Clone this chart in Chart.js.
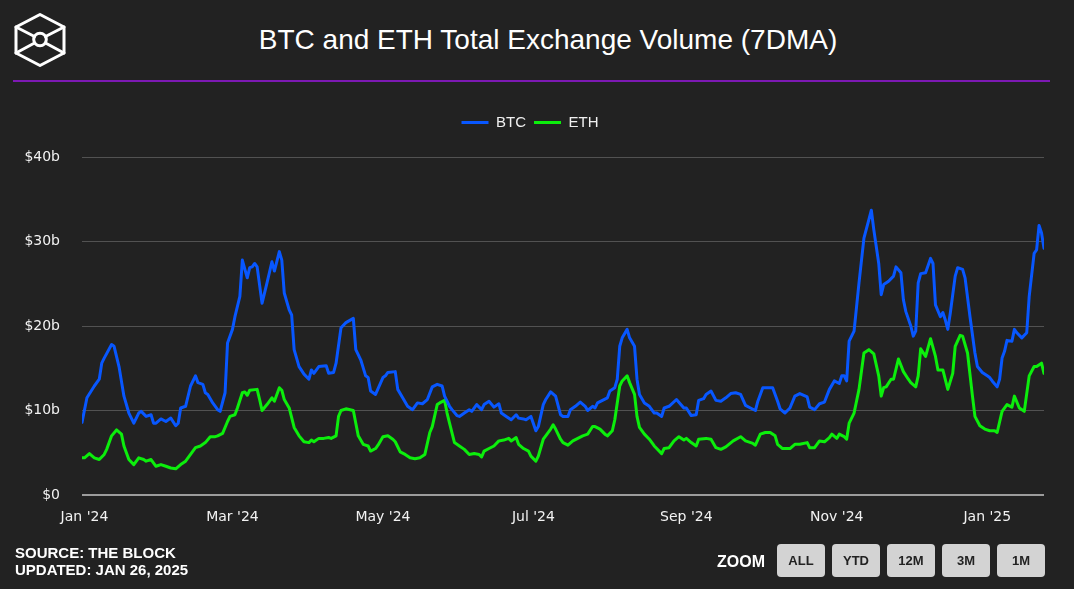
<!DOCTYPE html>
<html>
<head>
<meta charset="utf-8">
<script src="https://cdn.jsdelivr.net/npm/chart.js@4.4.1/dist/chart.umd.min.js"></script>
<style>
  html, body { margin: 0; padding: 0; background: #222222; width: 1074px; height: 589px; overflow: hidden; }
  #wrap { position: relative; width: 1074px; height: 589px; background: #222222; }
  #c { position: absolute; left: 0; top: 0; }
  .title { position: absolute; left: 11px; width: 1074px; top: 23px; line-height: 34px; text-align: center;
           color: #ffffff; font-family: "Liberation Sans", Arial, sans-serif; font-size: 28px; white-space: nowrap; }
  .rule { position: absolute; left: 13px; top: 80px; width: 1037px; height: 2px; background: #7d19b3; }
  .foot { position: absolute; left: 15px; top: 544px; line-height: 17px; color: #ffffff;
          font-family: "Liberation Sans", Arial, sans-serif; font-weight: bold; font-size: 15px; white-space: nowrap; }
  .zoomlbl { position: absolute; left: 717px; top: 552px; line-height: 20px; color: #ffffff;
             font-family: "Liberation Sans", Arial, sans-serif; font-weight: bold; font-size: 16px; }
  .btn { position: absolute; top: 544px; width: 48px; height: 33px; border-radius: 4px; background: #d3d3d3;
         color: #222; font-family: "Liberation Sans", Arial, sans-serif; font-weight: bold; font-size: 13px;
         line-height: 33px; text-align: center; }
</style>
</head>
<body>
<div id="wrap">
  <svg style="position:absolute;left:0;top:0" width="80" height="80">
    <g fill="none" stroke="#ffffff" stroke-width="3" stroke-linejoin="round" stroke-linecap="round">
      <polygon points="40,14.5 64,27 64,53 40,65.5 16,53 16,27"/>
      <line x1="16" y1="27" x2="34.5" y2="36.5"/>
      <line x1="64" y1="27" x2="45.5" y2="36.5"/>
      <line x1="16" y1="53" x2="34.5" y2="43"/>
      <line x1="64" y1="53" x2="45.5" y2="43"/>
      <circle cx="40" cy="39.5" r="6.3"/>
    </g>
  </svg>
  <div class="title">BTC and ETH Total Exchange Volume (7DMA)</div>
  <div class="rule"></div>
  <canvas id="c" width="1074" height="589"></canvas>
  <div class="foot">SOURCE: THE BLOCK<br>UPDATED: JAN 26, 2025</div>
  <div class="zoomlbl">ZOOM</div>
  <div class="btn" style="left:777px">ALL</div>
  <div class="btn" style="left:832px">YTD</div>
  <div class="btn" style="left:887px">12M</div>
  <div class="btn" style="left:942px">3M</div>
  <div class="btn" style="left:997px">1M</div>
</div>
<script>
// Days are counted from 2024-01-01 (day 0); values in $ billions (7-day moving average)
const btcDays = [
  -1,1,4,6,7,8,11,12,14,16,
  18,20,22,23,25,27,28,29,31,33,
  35,37,38,39,41,43,45,46,48,49,
  50,52,54,55,57,58,60,61,63,64,
  66,67,68,69,70,72,74,76,77,79,
  80,81,83,84,85,87,89,91,92,93,
  95,98,99,101,102,104,106,109,110,112,
  114,115,116,118,121,122,123,126,127,129,
  131,133,135,137,139,141,143,145,146,148,
  149,151,152,154,156,157,159,161,162,164,
  166,168,169,171,173,175,176,178,179,181,
  183,184,186,187,189,191,193,194,196,197,
  199,201,203,204,206,207,208,210,212,213,
  215,216,217,218,220,221,223,224,225,227,
  229,231,232,234,235,237,240,243,244,246,
  248,249,251,252,254,256,258,260,262,264,
  266,268,270,272,273,275,277,279,281,282,
  284,286,288,290,293,294,296,298,300,302,
  304,306,307,308,309,310,311,312,314,316,
  318,319,320,322,323,324,326,328,329,331,
  332,333,335,336,337,338,339,341,343,344,
  345,347,348,349,350,351,353,354,356,357,
  359,361,362,364,366,367,368,370,371,372,
  373,374,376,377,378,380,382,383,385,386,
  387,388,389
];
const btcValues = [
  8.6,11.5,12.9,13.7,15.6,16.2,17.8,17.6,15.2,11.7,
  9.7,8.5,9.7,9.9,9.3,9.5,8.5,8.5,9.0,8.7,
  9.1,8.2,8.5,10.3,10.5,12.9,14.1,13.3,13.1,12.1,
  11.9,10.9,10.1,9.9,12.1,18.0,19.6,21.1,23.5,27.8,
  25.7,26.9,27.0,27.4,27.0,22.7,25.1,27.6,26.5,28.8,
  27.8,23.9,21.9,21.3,17.2,15.2,14.3,13.7,14.8,14.4,
  15.2,15.3,14.4,14.5,15.6,19.8,20.4,20.9,17.2,16.0,
  14.1,13.9,12.3,11.9,13.9,14.1,14.5,14.6,12.5,11.5,
  10.5,10.1,10.9,10.8,11.3,12.8,13.1,12.9,11.7,10.5,
  10.1,9.4,9.3,9.7,10.1,9.9,10.7,10.1,10.7,11.1,
  10.4,10.8,9.7,9.3,8.9,9.5,9.1,9.0,8.9,9.3,
  7.6,8.1,10.7,11.3,12.2,11.7,9.5,9.3,9.3,10.1,
  10.5,11.0,10.5,10.0,10.5,10.3,10.9,11.2,11.5,12.3,
  12.7,13.7,17.6,18.6,19.6,18.6,17.6,13.7,11.9,10.9,
  10.5,9.7,9.7,9.3,10.3,10.5,11.3,10.3,10.3,9.4,
  9.5,11.2,11.4,11.9,12.3,11.2,11.1,11.5,12.0,12.1,
  11.9,10.6,10.3,10.0,11.1,12.7,12.7,12.7,11.1,10.2,
  9.7,10.3,11.7,12.0,11.6,10.4,10.1,10.8,11.0,12.5,
  13.5,13.2,14.1,14.1,13.5,18.2,18.8,19.4,25.1,30.4,
  32.6,33.7,31.4,27.4,23.7,24.9,25.3,25.9,27.0,26.3,
  23.1,21.7,20.0,18.8,19.4,25.1,26.2,26.3,28.0,27.4,
  22.5,21.1,21.6,20.7,19.6,21.5,25.9,26.9,26.7,25.7,
  21.1,16.8,15.2,14.5,14.1,13.9,13.5,12.8,13.7,16.2,
  17.0,18.3,18.2,19.6,19.2,18.6,19.2,23.5,28.6,29.0,
  31.9,31.0,29.2
];
const ethDays = [
  -1,0,2,4,6,8,9,11,13,15,
  16,18,20,22,24,25,27,29,31,33,
  35,37,39,41,43,45,47,49,51,53,
  54,56,58,59,61,62,64,65,66,67,
  70,71,72,74,76,77,79,80,81,83,
  85,87,89,91,92,93,95,97,99,100,
  102,103,104,106,109,110,111,113,115,116,
  118,119,121,123,125,126,128,130,132,134,
  136,138,140,141,143,144,146,147,148,150,
  152,154,156,158,160,161,162,164,166,168,
  170,172,173,175,176,178,180,181,183,184,
  186,187,189,190,191,193,194,196,198,200,
  202,204,206,207,209,211,212,214,215,217,
  218,220,221,223,224,225,227,229,231,234,
  235,237,239,241,243,244,246,248,249,252,
  254,256,258,260,263,266,268,271,272,274,
  276,278,280,281,283,286,288,290,293,294,
  296,298,300,302,303,305,306,308,309,310,
  312,314,316,318,320,322,323,324,325,327,
  328,330,332,334,335,337,338,339,341,343,
  345,346,348,350,352,353,355,356,358,360,
  361,363,365,367,369,370,372,374,376,377,
  379,381,383,385,386,388,389
];
const ethValues = [
  4.4,4.4,4.9,4.4,4.2,4.8,5.4,7.0,7.7,7.2,
  5.8,4.2,3.6,4.4,4.2,4.0,4.2,3.4,3.6,3.4,
  3.2,3.1,3.6,4.0,4.8,5.6,5.8,6.2,6.9,6.9,
  7.0,7.3,8.7,9.3,9.5,10.3,12.1,12.2,11.8,12.4,
  12.5,11.3,10.0,10.7,11.5,11.1,12.7,12.4,11.3,10.3,
  8.0,7.0,6.3,6.2,6.5,6.3,6.7,6.7,6.8,6.7,
  7.0,9.3,10.0,10.2,10.0,8.5,7.0,6.0,5.8,5.2,
  5.5,5.9,6.9,7.0,6.6,6.3,5.1,4.8,4.4,4.3,
  4.4,4.8,7.4,8.1,10.7,10.9,11.2,9.7,8.5,6.2,
  5.8,5.4,4.8,4.9,4.8,4.5,5.2,5.5,5.8,6.4,
  6.5,6.7,6.4,6.8,6.0,5.5,5.2,4.6,4.0,4.6,
  6.6,7.0,7.8,8.3,7.8,6.6,6.2,5.9,6.4,6.7,
  7.0,7.2,8.1,8.1,7.8,7.2,7.0,7.6,8.9,12.9,
  13.5,14.1,13.3,11.9,9.3,8.0,7.2,6.6,5.8,4.9,
  5.5,5.6,6.4,6.9,6.5,6.7,6.2,5.8,6.6,6.7,
  6.6,5.6,5.4,5.7,6.4,6.9,6.4,6.1,5.9,7.2,
  7.4,7.4,7.0,6.0,5.5,5.5,6.0,6.0,6.2,5.6,
  5.6,6.4,6.3,6.8,7.2,6.7,7.2,6.9,6.6,8.5,
  9.7,12.5,16.8,17.2,16.7,14.1,11.7,12.7,12.8,13.7,
  13.7,16.1,14.6,13.7,13.3,12.8,14.1,17.3,16.4,18.5,
  16.4,14.8,14.8,12.5,14.4,17.6,18.9,18.8,16.8,11.7,
  9.3,8.2,7.8,7.6,7.6,7.4,9.9,10.7,10.4,11.7,
  10.3,9.9,14.1,15.2,15.2,15.6,14.4
];
const seriesNames = ['BTC', 'ETH'];
const tickDates = ['2024-01-01','2024-03-01','2024-05-01','2024-07-01','2024-09-01','2024-11-01','2025-01-01'];
const tickLabels = ["Jan '24","Mar '24","May '24","Jul '24","Sep '24","Nov '24","Jan '25"];
const yTicks = [0, 10, 20, 30, 40];
const yTickLabels = ['$0', '$10b', '$20b', '$30b', '$40b'];
const firstDay = -1, lastDay = 389;

const DAY0 = Date.UTC(2024, 0, 1);
const toDay = s => { const [y, m, d] = s.split('-').map(Number); return Math.round((Date.UTC(y, m - 1, d) - DAY0) / 86400000); };
const tickDays = tickDates.map(toDay);

const BTC_COLOR = '#0857ff';
const ETH_COLOR = '#0cee0c';
const TICK_FONT = { family: '"DejaVu Sans", sans-serif', size: 14 };

const legendSpacer = {
  id: 'legendSpacer',
  beforeInit(chart) {
    const origFit = chart.legend.fit;
    chart.legend.fit = function () { origFit.call(this); this.height += 17; };
  }
};

new Chart(document.getElementById('c'), {
  type: 'line',
  data: {
    datasets: [
      { label: seriesNames[0], data: btcDays.map((d, i) => ({ x: d, y: btcValues[i] })),
        borderColor: BTC_COLOR, backgroundColor: BTC_COLOR, borderWidth: 3, pointRadius: 0,
        tension: 0, borderJoinStyle: 'round', borderCapStyle: 'round' },
      { label: seriesNames[1], data: ethDays.map((d, i) => ({ x: d, y: ethValues[i] })),
        borderColor: ETH_COLOR, backgroundColor: ETH_COLOR, borderWidth: 3, pointRadius: 0,
        tension: 0, borderJoinStyle: 'round', borderCapStyle: 'round' }
    ]
  },
  options: {
    responsive: false,
    animation: false,
    devicePixelRatio: 1,
    layout: { padding: { left: 16, right: 30, top: 107, bottom: 0 } },
    plugins: {
      legend: {
        display: true,
        position: 'top',
        align: 'center',
        labels: {
          color: '#f0f0f0',
          font: { family: '"Liberation Sans", Arial, sans-serif', size: 15 },
          boxWidth: 27, boxHeight: 3, padding: 8,
          generateLabels(chart) {
            const items = Chart.defaults.plugins.legend.labels.generateLabels(chart);
            items.forEach(it => { it.lineWidth = 0; });
            return items;
          }
        }
      },
      tooltip: { enabled: false },
      title: { display: false }
    },
    scales: {
      x: {
        type: 'linear',
        min: firstDay, max: lastDay,
        grid: { display: false, drawTicks: false },
        border: { display: false },
        afterFit(scale) { scale.height = 94; },
        afterBuildTicks(scale) { scale.ticks = tickDays.map(v => ({ value: v })); },
        ticks: {
          autoSkip: false, maxRotation: 0, padding: 14, color: '#f2f2f2', font: TICK_FONT,
          callback(v) { const i = tickDays.indexOf(v); return i >= 0 ? tickLabels[i] : ''; }
        }
      },
      y: {
        min: 0, max: 40,
        afterFit(scale) { scale.width = 66; },
        afterBuildTicks(scale) { scale.ticks = yTicks.map(v => ({ value: v })); },
        grid: {
          drawTicks: false,
          color: c => (c.tick && c.tick.value === 0) ? '#9c9c9c' : '#525252',
          lineWidth: c => (c.tick && c.tick.value === 0) ? 2 : 1
        },
        border: { display: false },
        ticks: {
          padding: 22, color: '#f2f2f2', font: TICK_FONT,
          callback(v) { const i = yTicks.indexOf(v); return i >= 0 ? yTickLabels[i] : ''; }
        }
      }
    }
  },
  plugins: [legendSpacer]
});
</script>
</body>
</html>
